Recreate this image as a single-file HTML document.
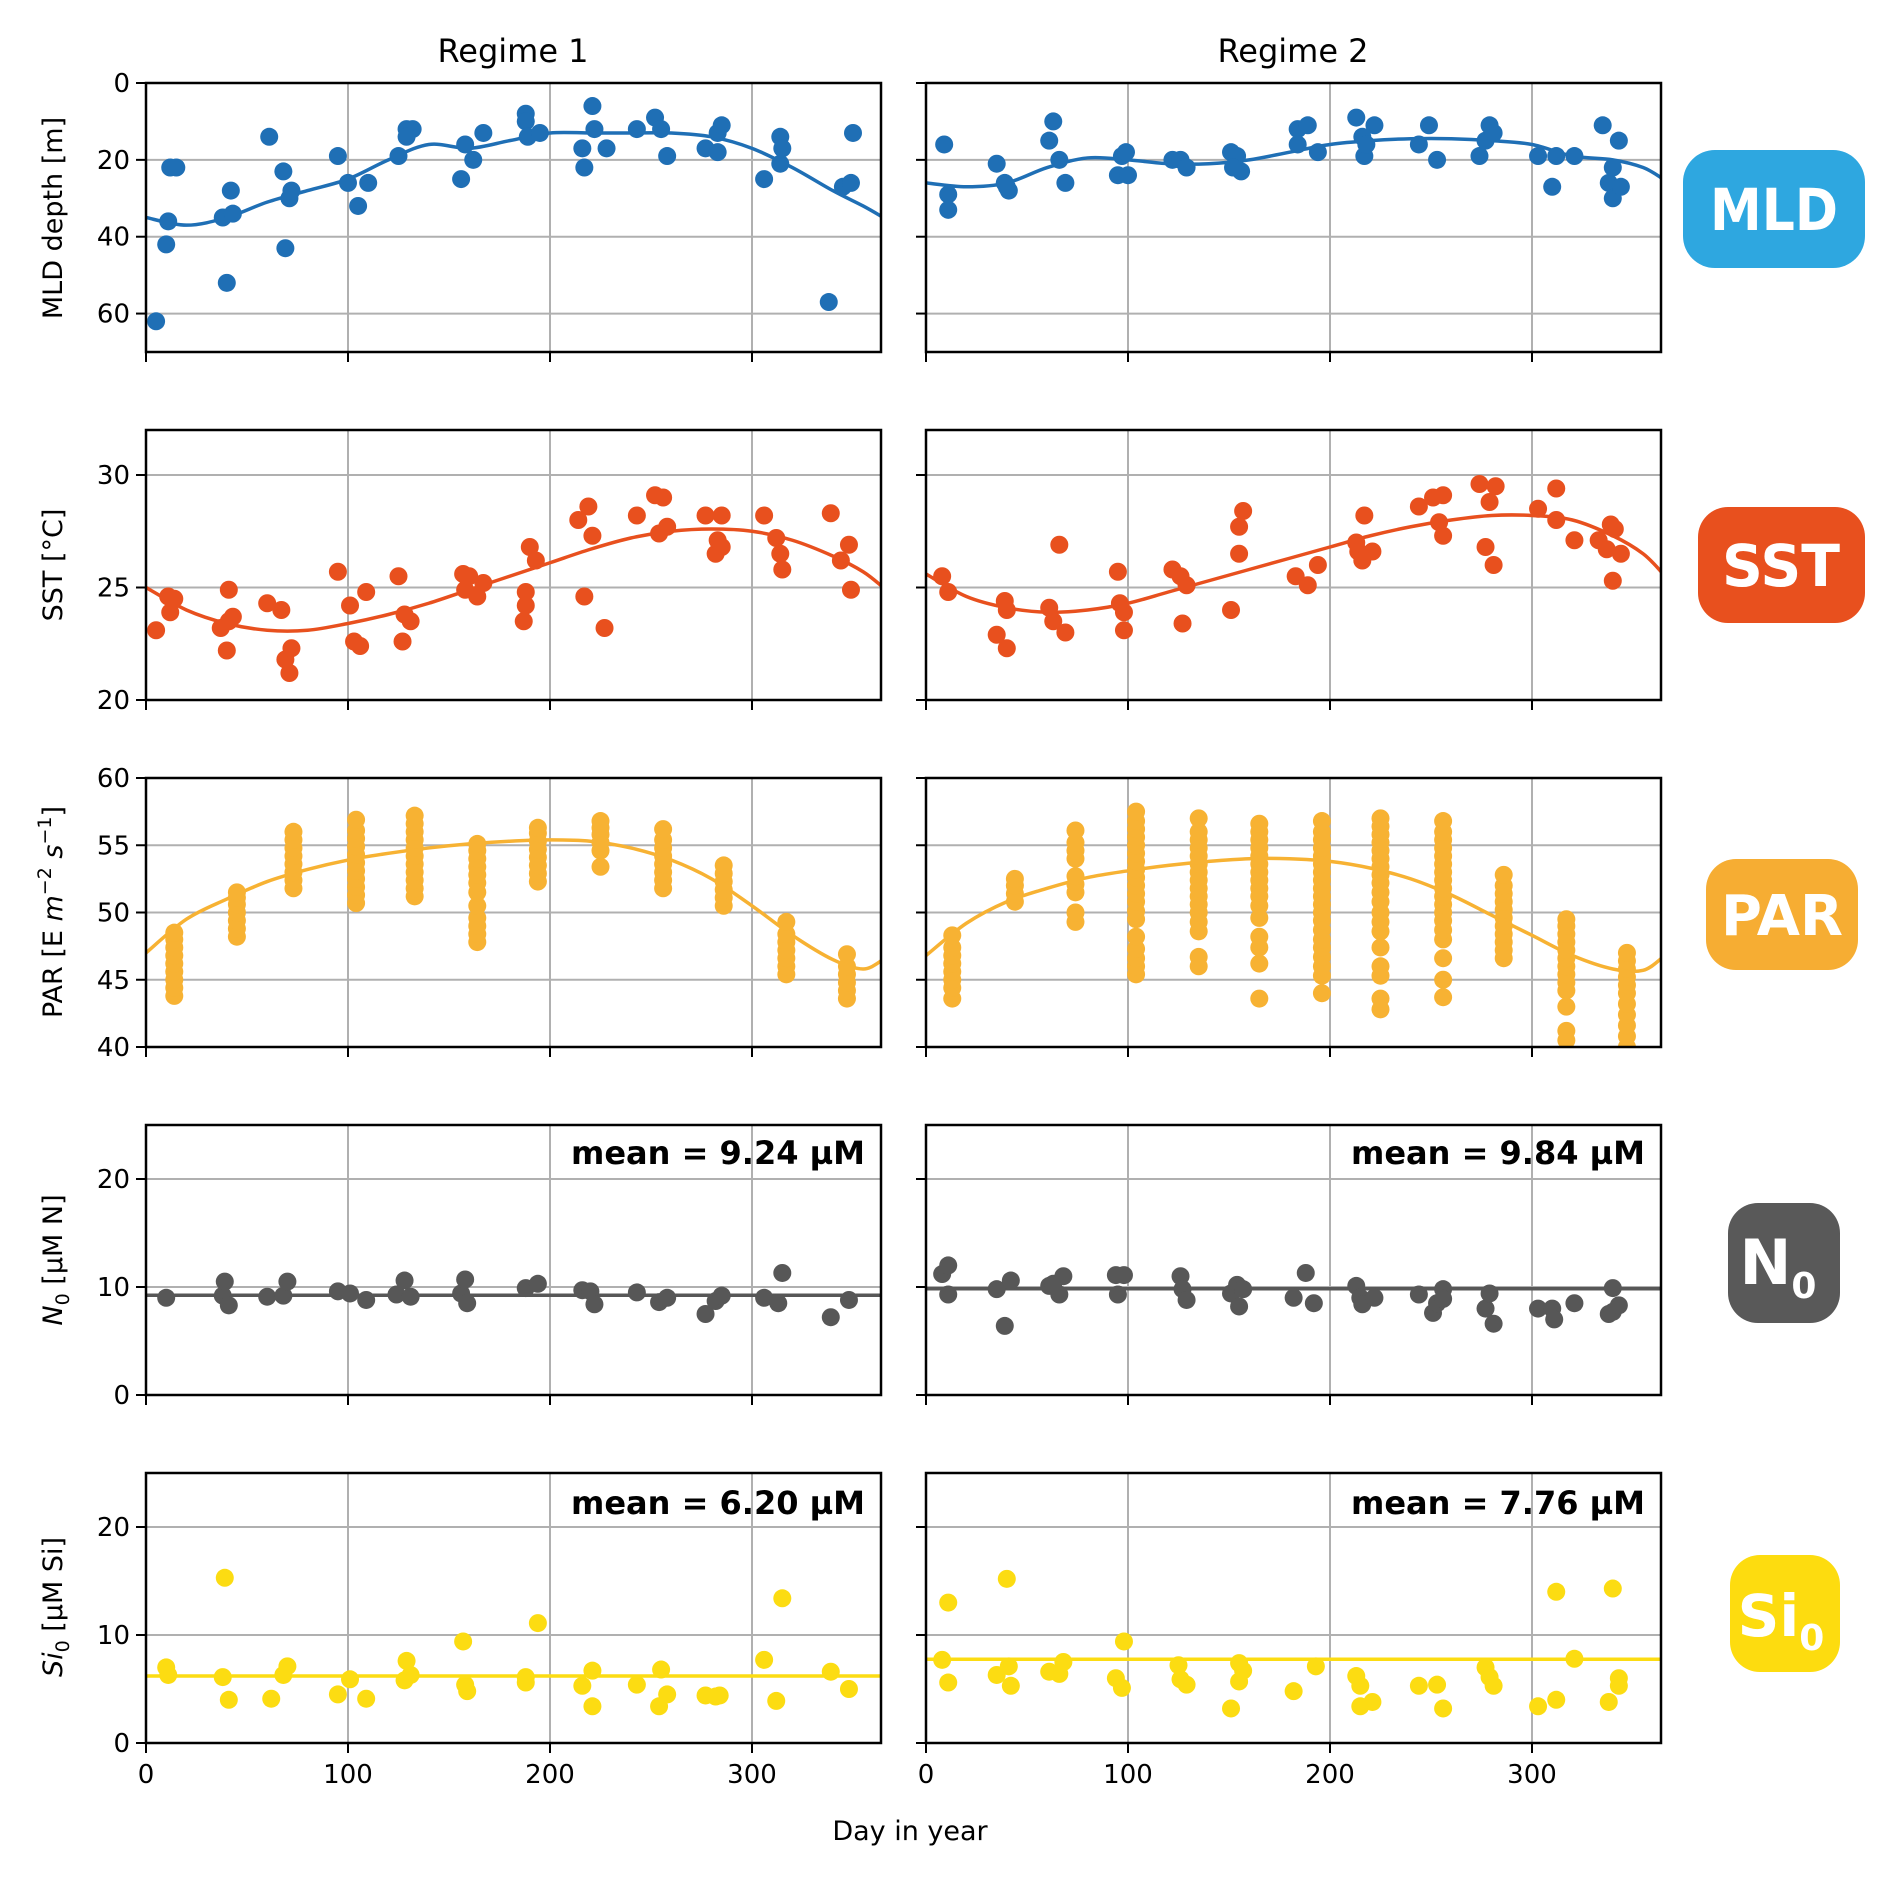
<!DOCTYPE html>
<html><head><meta charset="utf-8"><style>
html,body{margin:0;padding:0;background:#fff;}
svg{display:block;font-family:"DejaVu Sans","Liberation Sans",sans-serif;}
</style></head><body>
<svg id="fig" width="1884" height="1886" viewBox="0 0 1884 1886" xmlns="http://www.w3.org/2000/svg"></svg>
<script>
// ---- data ----
const mldPts1 = [[5,62],[12,22],[15,22],[11,36],[10,42],[38,35],[43,34],[40,52],[42,28],[61,14],[68,23],[69,43],[71,30],[72,28],[95,19],[100,26],[105,32],[110,26],[125,19],[129,12],[132,12],[129,14],[156,25],[158,16],[162,20],[167,13],[188,8],[188,10],[189,14],[195,13],[216,17],[217,22],[221,6],[222,12],[228,17],[243,12],[252,9],[255,12],[258,19],[277,17],[283,18],[283,13],[285,11],[306,25],[314,14],[314,21],[315,17],[338,57],[345,27],[349,26],[350,13]];
const mldCurveDays = [0,20,40,60,80,100,120,140,160,180,200,220,240,260,280,300,320,340,355,365];
const mldCurve1 = [35,37,35,31,28,25,20,16,17,15,13,13,13,13,14,17,22,28,32,35];
const mldPts2 = [[9,16],[11,29],[11,33],[35,21],[39,26],[41,28],[40,27],[61,15],[63,10],[66,20],[69,26],[95,24],[97,19],[99,18],[100,24],[122,20],[126,20],[129,22],[151,18],[154,19],[156,23],[152,22],[184,12],[184,16],[189,11],[194,18],[213,9],[216,14],[217,19],[218,16],[222,11],[244,16],[249,11],[253,20],[274,19],[277,15],[279,11],[281,13],[303,19],[310,27],[312,19],[321,19],[335,11],[338,26],[340,30],[340,22],[343,15],[344,27]];
const mldCurve2 = [26,27,26,22,19.5,20,21,21,20,18,16,15,14.5,14.5,15,16,19,20,22,25];

const sstPts1 = [[5,23.1],[11,24.6],[12,23.9],[14,24.5],[37,23.2],[40,22.2],[41,24.9],[41,23.5],[43,23.7],[60,24.3],[67,24],[69,21.8],[71,21.2],[72,22.3],[95,25.7],[101,24.2],[103,22.6],[106,22.4],[109,24.8],[125,25.5],[127,22.6],[128,23.8],[131,23.5],[157,25.6],[158,24.9],[160,25.5],[164,24.6],[167,25.2],[190,26.8],[193,26.2],[188,24.2],[187,23.5],[188,24.8],[214,28],[219,28.6],[221,27.3],[217,24.6],[227,23.2],[243,28.2],[252,29.1],[256,29],[254,27.4],[258,27.7],[277,28.2],[282,26.5],[283,27.1],[285,28.2],[285,26.8],[306,28.2],[312,27.2],[314,26.5],[315,25.8],[339,28.3],[344,26.2],[348,26.9],[349,24.9]];
const sstCurve1 = [25,24,23.4,23.1,23.1,23.4,23.8,24.3,24.9,25.5,26.1,26.7,27.2,27.5,27.6,27.5,27.1,26.4,25.7,25];
const sstPts2 = [[8,25.5],[11,24.8],[35,22.9],[39,24.4],[40,24],[40,22.3],[61,24.1],[63,23.5],[66,26.9],[69,23],[95,25.7],[96,24.3],[98,23.9],[98,23.1],[122,25.8],[126,25.5],[127,23.4],[129,25.1],[151,24],[155,27.7],[155,26.5],[157,28.4],[183,25.5],[189,25.1],[194,26],[213,27],[214,26.6],[216,26.2],[217,28.2],[221,26.6],[244,28.6],[251,29],[256,29.1],[254,27.9],[256,27.3],[274,29.6],[277,26.8],[279,28.8],[282,29.5],[281,26],[303,28.5],[312,29.4],[312,28],[321,27.1],[333,27.1],[337,26.7],[339,27.8],[340,25.3],[341,27.6],[344,26.5]];
const sstCurve2 = [25.6,24.6,24.1,23.9,24,24.3,24.8,25.3,25.8,26.3,26.8,27.3,27.7,28,28.2,28.2,28,27.3,26.5,25.6];

const parDays1 = [14,45,73,104,133,164,194,225,256,286,317,347];
const parVals1 = [
 [43.8,44.4,45,45.6,46.2,46.8,47.4,48,48.5],
 [48.2,48.8,49.4,50,50.6,51.1,51.5],
 [51.8,52.4,53,53.6,54.2,54.8,55.4,56],
 [50.7,51.3,51.9,52.5,53.1,53.7,54.3,54.9,55.5,56.1,56.9],
 [51.2,51.8,52.4,53,53.6,54.2,54.8,55.4,56,56.6,57.2],
 [47.8,48.4,49,49.6,50.5,51.5,52.2,52.8,53.4,54,54.6,55.1],
 [52.3,52.9,53.5,54.1,54.7,55.3,55.9,56.3],
 [53.4,54.6,55.2,55.8,56.3,56.8],
 [51.8,52.4,53,53.6,54.2,54.8,55.4,56.2],
 [50.5,51.1,51.7,52.3,52.9,53.5],
 [45.4,46,46.6,47.2,47.8,48.4,49.3],
 [43.6,44.2,44.8,45.4,46,46.9]];
const parCurve1 = [47,49.5,51,52.3,53.2,53.9,54.4,54.8,55.1,55.3,55.4,55.3,54.8,53.9,52.5,50.5,48.3,46.5,45.8,46.5];
const parDays2 = [13,44,74,104,135,165,196,225,256,286,317,347];
const parVals2 = [
 [43.6,44.4,45,45.6,46.2,46.8,47.4,48.3],
 [50.8,51.4,52,52.5],
 [49.3,50,51.5,52.1,52.7,54,54.6,55.2,56.1],
 [45.4,46,46.6,47.3,48.2,49.5,50.1,50.8,51.4,52,52.6,53.2,53.8,54.4,55,55.6,56.2,56.8,57.5],
 [46,46.7,48.6,49.3,50,50.6,51.2,51.8,52.4,53,53.6,54.2,54.8,55.4,56,57],
 [43.6,46.2,47.4,48.2,49.6,50.5,51.2,51.8,52.4,53,53.6,54.2,54.8,55.4,56,56.6],
 [44,45.3,46,46.7,47.4,48,48.7,49.4,50,50.6,51.2,51.8,52.4,53,53.6,54.2,54.8,55.4,56,56.8],
 [42.8,43.6,45.3,46,47.4,48.6,49.3,50,50.8,51.5,52.2,52.8,53.4,54,54.6,55.2,55.8,56.4,57],
 [43.7,45,46.6,48,48.7,49.4,50,50.6,51.2,51.8,52.4,53,53.6,54.2,54.8,55.4,56,56.8],
 [46.6,47.2,47.8,48.4,49,49.6,50.2,50.8,51.4,52,52.8],
 [40.5,41.2,43,44.2,44.8,45.4,46,46.6,47.2,47.8,48.4,49,49.5],
 [40,40.8,41.6,42.4,43.2,44,44.6,45.2,45.8,46.4,47]];
const parCurve2 = [46.8,49.2,50.8,51.8,52.6,53.1,53.5,53.8,54,54,53.8,53.3,52.5,51.3,49.8,48.3,46.8,45.8,45.7,46.7];

const nPts1 = [[10,9],[38,9.2],[39,10.5],[41,8.3],[60,9.1],[68,9.2],[70,10.5],[95,9.6],[101,9.4],[109,8.8],[124,9.3],[128,10.6],[131,9.1],[156,9.4],[158,10.7],[159,8.5],[188,9.9],[194,10.3],[216,9.7],[220,9.6],[222,8.4],[243,9.5],[254,8.6],[258,9],[277,7.5],[282,8.7],[285,9.2],[306,9],[313,8.5],[315,11.3],[339,7.2],[348,8.8]];
const nMean1 = [9.24];
const nPts2 = [[8,11.2],[11,12],[11,9.3],[35,9.8],[39,6.4],[42,10.6],[61,10.1],[63,10.3],[66,9.3],[68,11],[94,11.1],[95,9.3],[98,11.1],[126,11],[127,9.8],[129,8.8],[151,9.4],[154,10.2],[155,8.2],[157,9.8],[182,9],[188,11.3],[192,8.5],[213,10.1],[215,9],[216,8.4],[222,9],[244,9.3],[251,7.6],[253,8.5],[256,9.8],[256,8.9],[277,8],[279,9.4],[281,6.6],[303,8],[310,8],[311,7],[321,8.5],[338,7.5],[340,9.9],[340,7.7],[343,8.3]];
const nMean2 = [9.84];

const siPts1 = [[10,7],[11,6.3],[39,15.3],[38,6.1],[41,4],[62,4.1],[68,6.3],[70,7.1],[95,4.5],[101,5.9],[109,4.1],[128,5.8],[129,7.6],[131,6.3],[157,9.4],[158,5.4],[159,4.8],[188,6.1],[188,5.6],[194,11.1],[216,5.3],[221,6.7],[221,3.4],[243,5.4],[254,3.4],[255,6.8],[258,4.5],[277,4.4],[282,4.3],[284,4.4],[306,7.7],[312,3.9],[315,13.4],[339,6.6],[348,5]];
const siMean1 = [6.2];
const siPts2 = [[8,7.7],[11,13],[11,5.6],[35,6.3],[40,15.2],[41,7.1],[42,5.3],[61,6.6],[66,6.4],[68,7.5],[94,6],[98,9.4],[97,5.1],[125,7.2],[126,5.9],[129,5.4],[151,3.2],[155,7.4],[155,5.7],[157,6.7],[182,4.8],[193,7.1],[213,6.2],[215,5.3],[215,3.4],[221,3.8],[244,5.3],[253,5.4],[256,3.2],[277,7],[279,6.1],[281,5.3],[303,3.4],[312,4],[312,14],[321,7.8],[338,3.8],[340,14.3],[343,6],[343,5.3]];
const siMean2 = [7.76];

// ---- layout ----
const NS = 'http://www.w3.org/2000/svg';
const svg = document.getElementById('fig');
function el(tag, attrs, parent){ const e=document.createElementNS(NS,tag); for(const k in attrs) e.setAttribute(k,attrs[k]); (parent||svg).appendChild(e); return e; }
const cols = [{x0:146,x1:881},{x0:926,x1:1661}];
const pxPerDay = 2.02;
const rows = [
 {y0:83,y1:352,min:70,max:0,ticks:[0,20,40,60],color:'#1f6fb5',name:'mld'},
 {y0:430,y1:700,min:20,max:32,ticks:[20,25,30],color:'#e8501e',name:'sst'},
 {y0:778,y1:1047,min:40,max:60,ticks:[40,45,50,55,60],color:'#f7b233',name:'par'},
 {y0:1125,y1:1395,min:0,max:25,ticks:[0,10,20],color:'#575757',name:'n0'},
 {y0:1473,y1:1743,min:0,max:25,ticks:[0,10,20],color:'#fcdc12',name:'si0'}];
function xs(c,d){return cols[c].x0 + d*pxPerDay;}
function ys(r,v){const R=rows[r]; return R.y1 - (v-R.min)/(R.max-R.min)*(R.y1-R.y0);}
function smooth(pts){
  let d='M'+pts[0][0]+','+pts[0][1];
  for(let i=0;i<pts.length-1;i++){
    const p0=pts[Math.max(0,i-1)],p1=pts[i],p2=pts[i+1],p3=pts[Math.min(pts.length-1,i+2)];
    const c1=[p1[0]+(p2[0]-p0[0])/6,p1[1]+(p2[1]-p0[1])/6], c2=[p2[0]-(p3[0]-p1[0])/6,p2[1]-(p3[1]-p1[1])/6];
    d+=' C'+c1[0]+','+c1[1]+' '+c2[0]+','+c2[1]+' '+p2[0]+','+p2[1];
  }
  return d;
}
const defs = el('defs',{});
function panel(r,c){
  const R=rows[r], C=cols[c];
  const id='clip'+r+c;
  const cp=el('clipPath',{id:id},defs); el('rect',{x:C.x0,y:R.y0,width:C.x1-C.x0,height:R.y1-R.y0},cp);
  const g=el('g',{});
  
  
  [100,200,300].forEach(d=>{ el('line',{x1:xs(c,d),x2:xs(c,d),y1:R.y0,y2:R.y1,stroke:'#b0b0b0','stroke-width':2},g); });
  R.ticks.forEach(v=>{ const y=ys(r,v); if(v!==R.min&&v!==R.max) el('line',{x1:C.x0,x2:C.x1,y1:y,y2:y,stroke:'#b0b0b0','stroke-width':2},g);
    el('line',{x1:C.x0-10,x2:C.x0,y1:y,y2:y,stroke:'#000','stroke-width':2},g);
    if(c===0){ const t=el('text',{x:C.x0-16,y:y+9,'text-anchor':'end','font-size':26},g); t.textContent=v;   }
  });
  [0,100,200,300].forEach(d=>{ el('line',{x1:xs(c,d),x2:xs(c,d),y1:R.y1,y2:R.y1+10,stroke:'#000','stroke-width':2},g);
    if(r===4){ const t=el('text',{x:xs(c,d),y:R.y1+40,'text-anchor':'middle','font-size':26},g); t.textContent=d;   } });
  const inner=el('g',{'clip-path':'url(#'+id+')'},g);
  el('rect',{x:C.x0,y:R.y0,width:C.x1-C.x0,height:R.y1-R.y0,fill:'none',stroke:'#000','stroke-width':2.5},g);
  return inner;
}
function dots(g,r,c,pts,color){
  pts.forEach(p=>{ const d=el('circle',{cx:xs(c,p[0]),cy:ys(r,p[1]),r:9,fill:color},g);
      });
}
function curve(g,r,c,vals,color){
  const pts=mldCurveDays.map((d,i)=>[xs(c,d),ys(r,vals[i])]);
  const p=el('path',{d:smooth(pts),fill:'none',stroke:color,'stroke-width':3.5},g);
   
}
function meanLine(g,r,c,m,color){
  const p=el('line',{x1:cols[c].x0,x2:cols[c].x1,y1:ys(r,m[0]),y2:ys(r,m[0]),stroke:color,'stroke-width':3.5},g);
   
}
let g=panel(0,0); curve(g,0,0,mldCurve1,rows[0].color); dots(g,0,0,mldPts1,rows[0].color);
g=panel(0,1); curve(g,0,1,mldCurve2,rows[0].color); dots(g,0,1,mldPts2,rows[0].color);
g=panel(1,0); curve(g,1,0,sstCurve1,rows[1].color); dots(g,1,0,sstPts1,rows[1].color);
g=panel(1,1); curve(g,1,1,sstCurve2,rows[1].color); dots(g,1,1,sstPts2,rows[1].color);
function parPts(days,vals){ const out=[]; days.forEach((d,i)=>vals[i].forEach(v=>out.push([d,v]))); return out; }
g=panel(2,0); curve(g,2,0,parCurve1,rows[2].color); dots(g,2,0,parPts(parDays1,parVals1),rows[2].color);
g=panel(2,1); curve(g,2,1,parCurve2,rows[2].color); dots(g,2,1,parPts(parDays2,parVals2),rows[2].color);
g=panel(3,0); meanLine(g,3,0,nMean1,rows[3].color); dots(g,3,0,nPts1,rows[3].color);
g=panel(3,1); meanLine(g,3,1,nMean2,rows[3].color); dots(g,3,1,nPts2,rows[3].color);
g=panel(4,0); meanLine(g,4,0,siMean1,rows[4].color); dots(g,4,0,siPts1,rows[4].color);
g=panel(4,1); meanLine(g,4,1,siMean2,rows[4].color); dots(g,4,1,siPts2,rows[4].color);
[[3,0,nMean1],[3,1,nMean2],[4,0,siMean1],[4,1,siMean2]].forEach(a=>{
  const t=el('text',{x:cols[a[1]].x1-16,y:rows[a[0]].y0+(a[0]===3?39:41),'text-anchor':'end','font-size':32,'font-weight':'bold'});
  t.textContent='mean = '+a[2][0].toFixed(2)+' µM';
   
});
</script>
<svg style="position:absolute;left:0;top:0" width="1884" height="1886" xmlns="http://www.w3.org/2000/svg" font-family="DejaVu Sans, Liberation Sans, sans-serif">
 <text x="513" y="62" text-anchor="middle" font-size="32">Regime 1</text>
 <text x="1293" y="62" text-anchor="middle" font-size="32">Regime 2</text>
 <text x="910" y="1840" text-anchor="middle" font-size="27">Day in year</text>
 <text transform="translate(62,218) rotate(-90)" text-anchor="middle" font-size="27">MLD depth [m]</text>
 <text transform="translate(62,565) rotate(-90)" text-anchor="middle" font-size="27">SST [°C]</text>
 <text transform="translate(62,912) rotate(-90)" text-anchor="middle" font-size="27">PAR [E <tspan font-style="italic">m</tspan><tspan dy="-11" font-size="19">−2</tspan><tspan dy="11"> </tspan><tspan font-style="italic">s</tspan><tspan dy="-11" font-size="19">−1</tspan><tspan dy="11">]</tspan></text>
 <text transform="translate(62,1260) rotate(-90)" text-anchor="middle" font-size="27"><tspan font-style="italic">N</tspan><tspan dy="7" font-size="19">0</tspan><tspan dy="-7"> [µM N]</tspan></text>
 <text transform="translate(62,1607) rotate(-90)" text-anchor="middle" font-size="27"><tspan font-style="italic">Si</tspan><tspan dy="7" font-size="19">0</tspan><tspan dy="-7"> [µM Si]</tspan></text>
 <g><rect x="1683" y="150" width="182" height="118" rx="32" fill="#2ea7e0"/><text x="1774" y="230" text-anchor="middle" font-size="58" font-weight="bold" fill="#fff" textLength="128" lengthAdjust="spacingAndGlyphs">MLD</text></g>
 <g><rect x="1698" y="507" width="167" height="116" rx="30" fill="#e8501e"/><text x="1781" y="586" text-anchor="middle" font-size="58" font-weight="bold" fill="#fff" textLength="118" lengthAdjust="spacingAndGlyphs">SST</text></g>
 <g><rect x="1706" y="859" width="152" height="111" rx="30" fill="#f6ad33"/><text x="1782" y="935" text-anchor="middle" font-size="56" font-weight="bold" fill="#fff" textLength="122" lengthAdjust="spacingAndGlyphs">PAR</text></g>
 <g><rect x="1728" y="1203" width="112" height="120" rx="30" fill="#595959"/><text x="1778" y="1284" text-anchor="middle" font-size="62" font-weight="bold" fill="#fff">N<tspan font-size="36" dy="14">0</tspan></text></g>
 <g><rect x="1730" y="1555" width="110" height="117" rx="30" fill="#fddc0f"/><text x="1781" y="1636" text-anchor="middle" font-size="58" font-weight="bold" fill="#fff">Si<tspan font-size="36" dy="14">0</tspan></text></g>
</svg>
</body></html>
